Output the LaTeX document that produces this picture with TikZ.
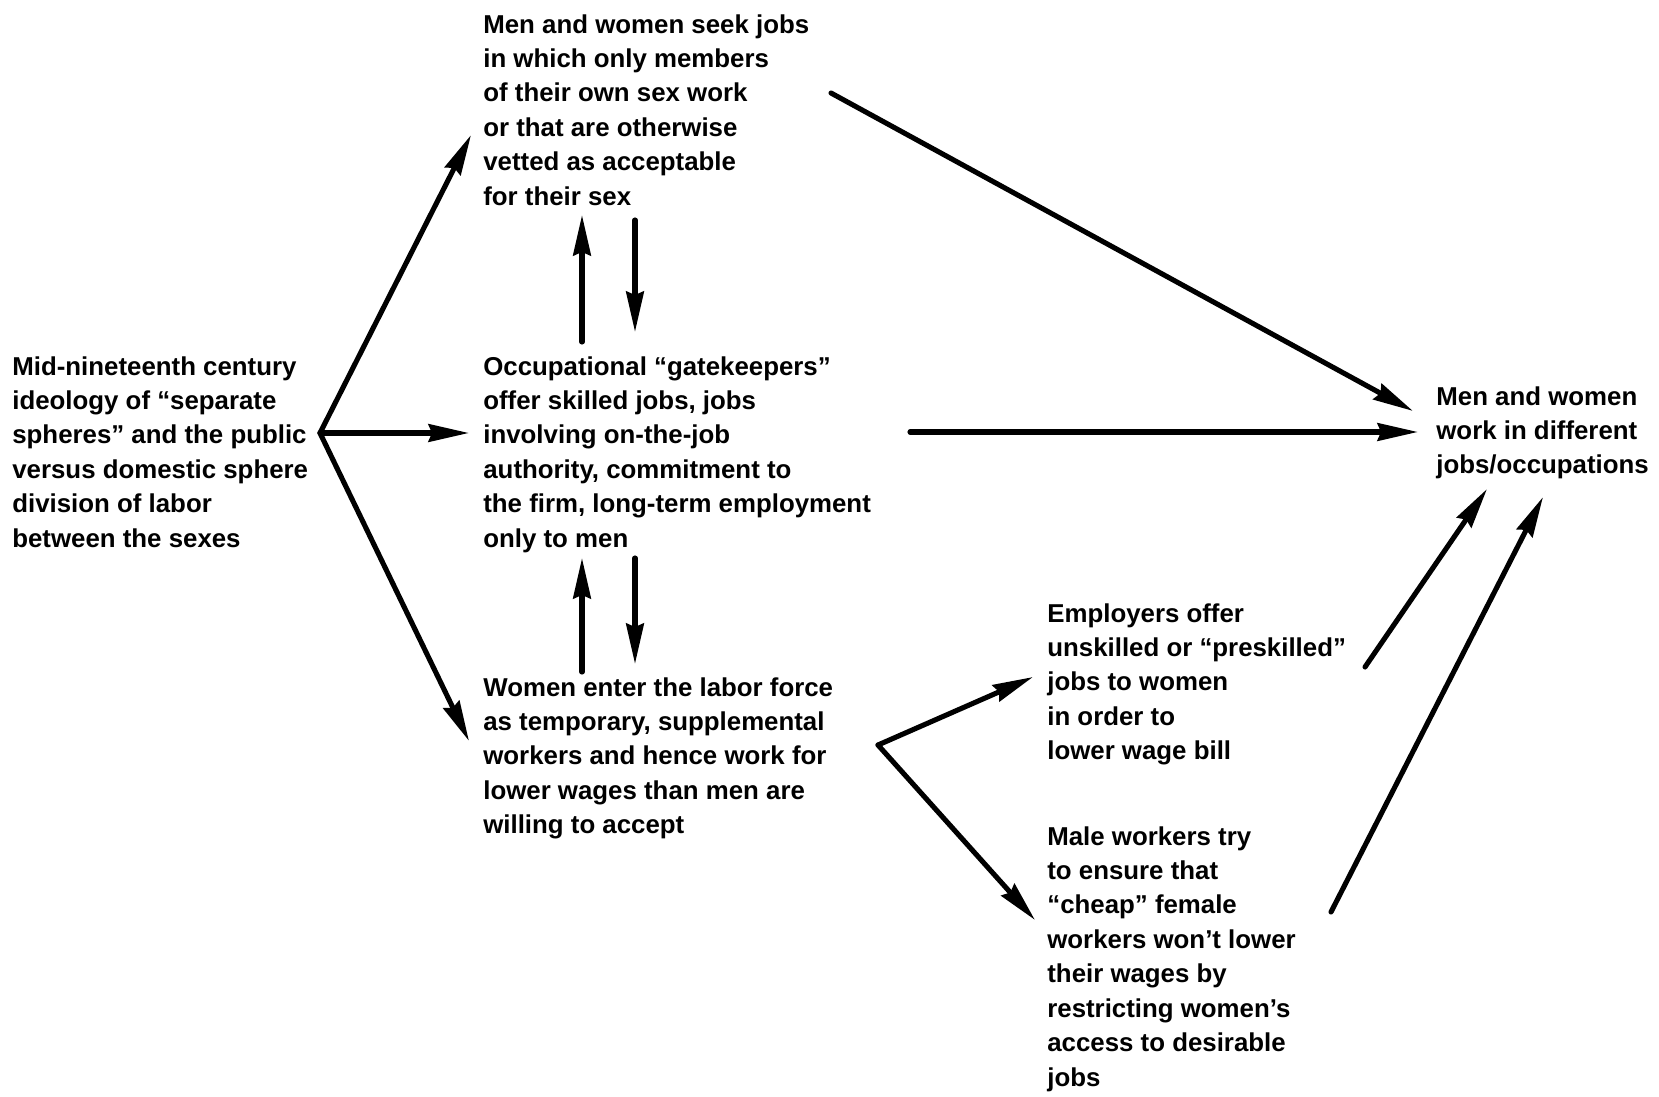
\documentclass[tikz,border=0pt]{standalone}
\usepackage{fontspec}
\setmainfont{Liberation Sans}
\usetikzlibrary{arrows.meta}

\begin{document}
\begin{tikzpicture}[x=0.2mm, y=-0.2mm,
  font=\fontsize{14.7}{19.6}\selectfont\bfseries,
  txt/.style={anchor=north west, inner sep=0pt, align=left},
  arr/.style={-{Stealth[length=23pt,width=10pt,inset=2pt]}, line width=2.9pt, line cap=round}]
  \useasboundingbox (0,0) rectangle (1659,1097);
  % text blocks
  \node[txt] (ideology) at (12,356)
    {Mid-nineteenth century\\ ideology of ``separate\\ spheres'' and the public\\
     versus domestic sphere\\ division of labor\\ between the sexes};
  \node[txt] (seek) at (483,14)
    {Men and women seek jobs\\ in which only members\\ of their own sex work\\
     or that are otherwise\\ vetted as acceptable\\ for their sex};
  \node[txt] (gate) at (483,356)
    {Occupational ``gatekeepers''\\ offer skilled jobs, jobs\\ involving on-the-job\\
     authority, commitment to\\ the firm, long-term employment\\ only to men};
  \node[txt] (enter) at (483,677)
    {Women enter the labor force\\ as temporary, supplemental\\ workers and hence work for\\
     lower wages than men are\\ willing to accept};
  \node[txt] (result) at (1436,386)
    {Men and women\\ work in different\\ jobs/occupations};
  \node[txt] (employ) at (1047,603)
    {Employers offer\\ unskilled or ``preskilled''\\ jobs to women\\ in order to\\ lower wage bill};
  \node[txt] (male) at (1047,826)
    {Male workers try\\ to ensure that\\ ``cheap'' female\\ workers won't lower\\
     their wages by\\ restricting women's\\ access to desirable\\ jobs};
  % arrow ends
  \coordinate (fork) at (320,433);
  \coordinate (seekIn) at (471,135);
  \coordinate (gateIn) at (469,433);
  \coordinate (enterIn) at (469,741);
  \coordinate (seekOut) at (831,93);
  \coordinate (gateOut) at (910,432);
  \coordinate (resIn1) at (1413,411);
  \coordinate (resIn2) at (1418,432);
  \coordinate (seekUp) at (582,215);
  \coordinate (gateUpTop) at (582,342);
  \coordinate (seekDown) at (635,220);
  \coordinate (gateDownTop) at (635,332);
  \coordinate (gateUpBot) at (582,558);
  \coordinate (enterUp) at (582,672);
  \coordinate (gateDownBot) at (635,558);
  \coordinate (enterDown) at (635,664);
  \coordinate (fork2) at (878,745);
  \coordinate (employIn) at (1033,677);
  \coordinate (maleIn) at (1035,920);
  \coordinate (employOut) at (1365,667);
  \coordinate (maleOut) at (1331,912);
  \coordinate (resIn3) at (1487,489);
  \coordinate (resIn4) at (1543,497);
  % connectors
  \draw[arr] (fork) -- (seekIn);
  \draw[arr] (fork) -- (gateIn);
  \draw[arr] (fork) -- (enterIn);
  \draw[arr] (seekOut) -- (resIn1);
  \draw[arr] (gateOut) -- (resIn2);
  \draw[arr] (gateUpTop) -- (seekUp);
  \draw[arr] (seekDown) -- (gateDownTop);
  \draw[arr] (enterUp) -- (gateUpBot);
  \draw[arr] (gateDownBot) -- (enterDown);
  \draw[arr] (fork2) -- (employIn);
  \draw[arr] (fork2) -- (maleIn);
  \draw[arr] (employOut) -- (resIn3);
  \draw[arr] (maleOut) -- (resIn4);
\end{tikzpicture}
\end{document}
